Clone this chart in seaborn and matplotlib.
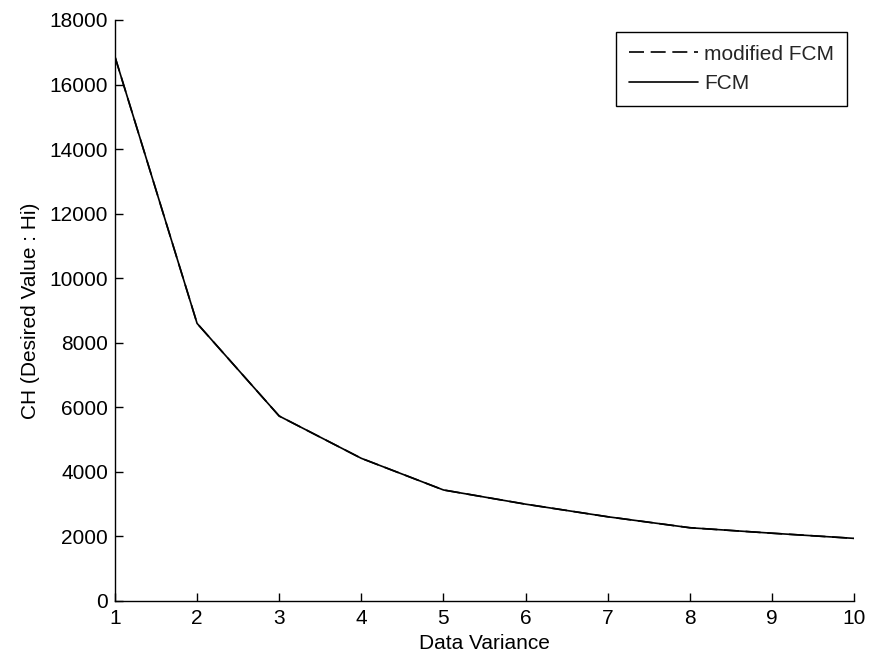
import matplotlib
matplotlib.use("Agg")
import matplotlib.pyplot as plt
import seaborn as sns
import pandas as pd

variance = [1, 2, 3, 4, 5, 6, 7, 8, 9, 10]
ch_fcm = [16860, 8600, 5730, 4420, 3440, 3000, 2610, 2270, 2100, 1940]
ch_modified = [16860, 8600, 5730, 4420, 3440, 3000, 2610, 2270, 2100, 1940]
series_names = ["modified FCM", "FCM"]
x_ticks = [1, 2, 3, 4, 5, 6, 7, 8, 9, 10]
y_ticks = [0, 2000, 4000, 6000, 8000, 10000, 12000, 14000, 16000, 18000]

sns.set_theme(style="white")
plt.rcParams["font.family"] = ["Liberation Sans", "DejaVu Sans"]

FS = 15
fig = plt.figure(figsize=(8.69, 6.64), dpi=100)
ax = fig.add_axes([0.1323, 0.0949, 0.8504, 0.875])

df_mod = pd.DataFrame({"x": variance, "y": ch_modified})
df_fcm = pd.DataFrame({"x": variance, "y": ch_fcm})
sns.lineplot(data=df_mod, x="x", y="y", ax=ax, color="black", linestyle=(0, (9, 4)),
             linewidth=1.2, label=series_names[0])
sns.lineplot(data=df_fcm, x="x", y="y", ax=ax, color="black", linestyle="-",
             linewidth=1.2, label=series_names[1])

ax.set_xlim(1, 10)
ax.set_ylim(0, 18000)
ax.set_xticks(x_ticks)
ax.set_yticks(y_ticks)
ax.set_xticklabels([str(t) for t in x_ticks])
ax.set_yticklabels([str(t) for t in y_ticks])
ax.tick_params(direction="in", length=6, width=1, colors="black", labelsize=FS,
               left=True, bottom=True, top=False, right=False)
ax.tick_params(axis="x", pad=6)
ax.tick_params(axis="y", pad=5)
for side in ["top", "right"]:
    ax.spines[side].set_visible(False)
for side in ["left", "bottom"]:
    ax.spines[side].set_color("black")
    ax.spines[side].set_linewidth(1)
ax.set_xlabel("Data Variance", fontsize=FS, color="black", labelpad=4)
ax.set_ylabel("CH (Desired Value : Hi)", fontsize=FS, color="black", labelpad=7)

leg = ax.legend(loc="upper right", bbox_to_anchor=(0.9905, 0.979), fontsize=FS,
                frameon=True, fancybox=False, edgecolor="black", handlelength=3.3,
                handletextpad=0.33, borderpad=0.6, labelspacing=0.5, borderaxespad=0)
leg.get_frame().set_linewidth(1)
leg.get_frame().set_alpha(1)

fig.savefig("out.png", dpi=100)
